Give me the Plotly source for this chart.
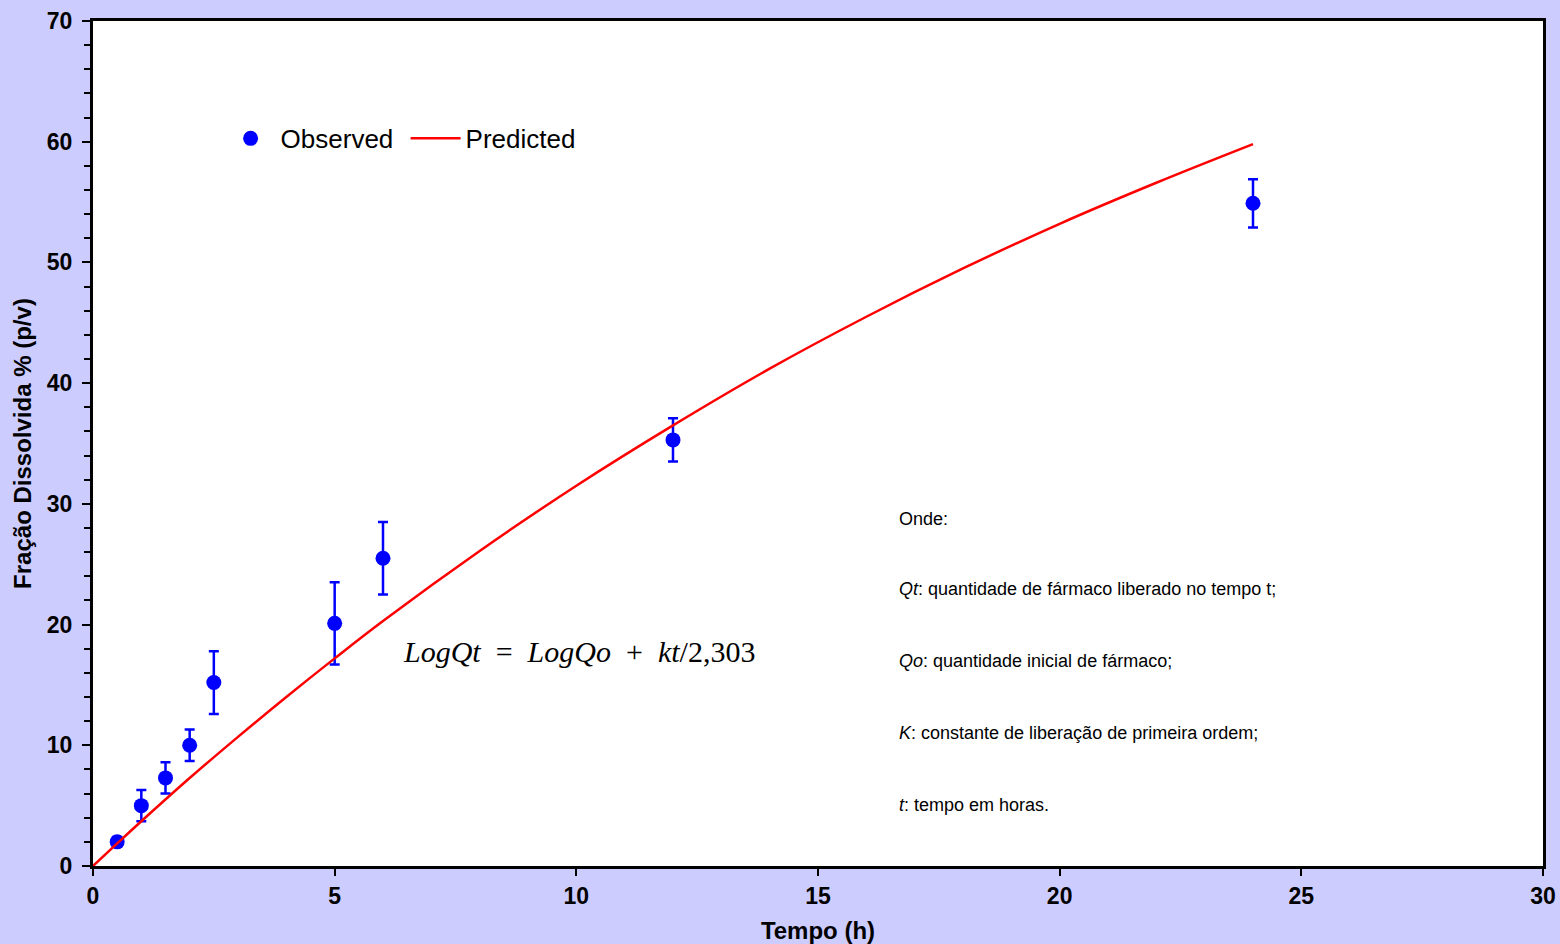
import plotly.graph_objects as go

# Observed dissolution data (mean ± SD)
time_obs = [0.5, 1, 1.5, 2, 2.5, 5, 6, 12, 24]
frac_obs = [2.0, 5.0, 7.3, 10.0, 15.2, 20.1, 25.5, 35.3, 54.9]
sd_obs = [0.4, 1.3, 1.3, 1.3, 2.6, 3.4, 3.0, 1.8, 2.0]

# First-order model prediction
time_pred = [0, 0.5, 1, 2, 3, 4, 5, 6, 8, 10, 12, 14, 16, 18, 20, 22, 24]
frac_pred = [0, 1.87, 3.71, 7.29, 10.7, 14.0, 17.2, 20.3, 26.1, 31.5, 36.5,
             41.2, 45.5, 49.5, 53.2, 56.6, 59.8]

x_ticks = [0, 5, 10, 15, 20, 25, 30]
y_ticks = [0, 10, 20, 30, 40, 50, 60, 70]

BG = "#ccccff"
SANS = "Liberation Sans, Arial, sans-serif"
SERIF = "Liberation Serif, DejaVu Serif, serif"

fig = go.Figure()

fig.add_trace(go.Scatter(
    x=time_obs, y=frac_obs, mode="markers", name="Observed",
    marker=dict(color="#0000ff", size=15),
    error_y=dict(type="data", array=sd_obs, visible=True,
                 color="#0000ff", thickness=2.5, width=5),
))

fig.add_trace(go.Scatter(
    x=time_pred, y=frac_pred, mode="lines", name="Predicted",
    line=dict(color="#ff0000", width=2.5, shape="spline"),
))

axis_common = dict(
    showgrid=False, zeroline=False, showline=True, linecolor="black",
    linewidth=3, mirror=True, ticks="outside", tickcolor="black",
    tickwidth=2, automargin=False,
    tickfont=dict(family=SANS, size=23, color="black", weight="bold"),
)

fig.update_xaxes(
    range=[0, 30], tickvals=x_ticks, ticklen=7,
    title=dict(text="Tempo (h)",
               font=dict(family=SANS, size=24, color="black", weight="bold"),
               standoff=17),
    **axis_common,
)
fig.update_yaxes(
    range=[0, 70], tickvals=y_ticks, ticklen=8, ticklabelstandoff=5,
    minor=dict(dtick=2, ticks="outside", ticklen=6, tickwidth=2, tickcolor="black"),
    title=dict(text="Fração Dissolvida % (p/v)",
               font=dict(family=SANS, size=24, color="black", weight="bold"),
               standoff=9),
    **axis_common,
)

# Model equation
fig.add_annotation(
    x=6.37, y=17.8, xref="x", yref="y", xanchor="left", yanchor="middle",
    showarrow=False,
    text="<i>LogQt</i>&nbsp; = &nbsp;<i>LogQo</i>&nbsp; + &nbsp;<i>kt</i>/2,303",
    font=dict(family=SERIF, size=30, color="black"),
)

# Legend of symbols
notes = [
    (28.75, "Onde:"),
    (22.95, "<i>Qt</i>: quantidade de fármaco liberado no tempo t;"),
    (16.98, "<i>Qo</i>: quantidade inicial de fármaco;"),
    (11.02, "<i>K</i>: constante de liberação de primeira ordem;"),
    (5.05, "<i>t</i>: tempo em horas."),
]
for yv, txt in notes:
    fig.add_annotation(
        x=16.64, y=yv, xref="x", yref="y", xanchor="left", yanchor="middle",
        showarrow=False, text=txt,
        font=dict(family=SANS, size=18, color="black"),
    )

fig.update_layout(
    width=1560, height=944,
    paper_bgcolor=BG, plot_bgcolor="white",
    margin=dict(l=93, r=17, t=21, b=78),
    showlegend=True,
    legend=dict(
        orientation="h", x=0.088, y=0.861, xanchor="left", yanchor="middle",
        itemwidth=50, entrywidth=120,
        bgcolor="rgba(0,0,0,0)", font=dict(family=SANS, size=26, color="black"),
    ),
)

fig.write_html("out.html")
